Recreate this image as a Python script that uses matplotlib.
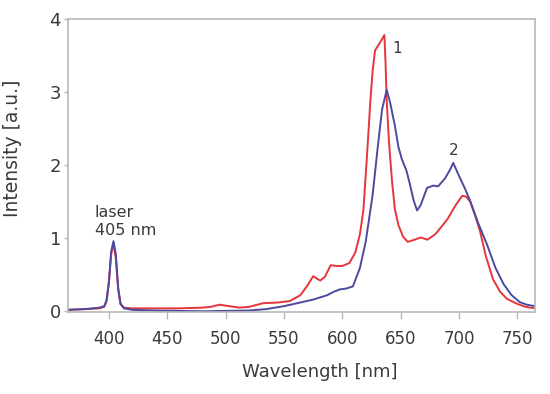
import matplotlib
matplotlib.use('Agg')
import matplotlib.pyplot as plt

# curve 1 (red)
wl_1 = [365, 380, 392, 396, 398, 400, 402, 404, 406, 408, 410, 413, 420, 440, 460,
        480, 487, 495, 503, 512, 520, 532, 545, 555, 564, 570, 575, 581, 585, 590,
        595, 600, 606, 611, 615, 618, 621, 624, 626, 628, 632, 636, 637, 638, 640,
        642.6, 645, 648, 652, 656, 662, 667, 673, 680, 690, 697, 702.6, 706, 709.5,
        714, 718, 723, 729, 735, 741, 750, 757, 765]
int_1 = [0.02, 0.03, 0.04, 0.06, 0.13, 0.38, 0.78, 0.93, 0.72, 0.30, 0.10, 0.05, 0.04,
         0.04, 0.04, 0.05, 0.06, 0.09, 0.07, 0.05, 0.06, 0.11, 0.12, 0.14, 0.22, 0.35,
         0.48, 0.42, 0.47, 0.63, 0.62, 0.62, 0.66, 0.80, 1.05, 1.38, 2.10, 2.88, 3.30,
         3.57, 3.67, 3.78, 3.40, 2.88, 2.30, 1.77, 1.40, 1.18, 1.02, 0.95, 0.98, 1.01,
         0.98, 1.06, 1.26, 1.45, 1.58, 1.57, 1.50, 1.30, 1.09, 0.75, 0.44, 0.27, 0.17,
         0.10, 0.06, 0.04]

# curve 2 (blue)
wl_2 = [365, 380, 392, 396, 398, 400, 402, 404, 406, 408, 410, 413, 420, 440, 480,
        520, 535, 550, 564, 575, 587, 593, 598, 603, 609, 615, 620, 626, 630, 634,
        638, 641, 645, 648, 651, 655, 658, 661, 664, 667, 672.6, 678, 682, 688, 692,
        695, 700, 705, 709.5, 716, 724, 731, 738, 745, 752, 758, 765]
int_2 = [0.02, 0.03, 0.05, 0.07, 0.15, 0.40, 0.82, 0.96, 0.78, 0.32, 0.10, 0.04, 0.02,
         0.01, 0.0, 0.01, 0.03, 0.07, 0.12, 0.16, 0.22, 0.27, 0.30, 0.31, 0.34, 0.59,
         0.95, 1.60, 2.20, 2.76, 3.03, 2.85, 2.54, 2.25, 2.08, 1.92, 1.73, 1.52, 1.38,
         1.45, 1.69, 1.72, 1.71, 1.82, 1.93, 2.03, 1.85, 1.68, 1.51, 1.22, 0.91, 0.60,
         0.375, 0.22, 0.125, 0.09, 0.07]

x_ticks = [400, 450, 500, 550, 600, 650, 700, 750]
y_ticks = [0, 1, 2, 3, 4]

text_col = '#3a3a3a'
spine_col = '#b8b8b8'

fig = plt.figure(figsize=(5.5, 3.94), dpi=100)
ax = fig.add_axes([0.1236, 0.2081, 0.8491, 0.7437])

ax.plot(wl_1, int_1, color='#e8353c', lw=1.4)
ax.plot(wl_2, int_2, color='#4a4a9e', lw=1.4)

ax.set_xlim(365, 765)
ax.set_ylim(-0.01, 4)
ax.set_xticks(x_ticks)
ax.set_yticks(y_ticks)

for s in ax.spines.values():
    s.set_color(spine_col)
    s.set_linewidth(1.2)

ax.tick_params(axis='x', colors=spine_col, labelcolor=text_col, labelsize=12,
               length=5, width=1, pad=8)
ax.tick_params(axis='y', colors=spine_col, labelcolor=text_col, labelsize=13,
               length=3, width=1, pad=2)

ax.set_xlabel('Wavelength [nm]', fontsize=13, color=text_col)
ax.xaxis.set_label_coords(0.54, -0.175)
ax.set_ylabel('Intensity [a.u.]', fontsize=13.5, color=text_col)
ax.yaxis.set_label_coords(-0.098, 0.56)

ax.text(388, 1.0, 'laser\n405 nm', fontsize=11.5, color=text_col,
        ha='left', va='bottom', linespacing=1.25)
ax.text(643, 3.6, '1', fontsize=11, color=text_col, ha='left', va='center')
ax.text(695, 2.2, '2', fontsize=11, color=text_col, ha='center', va='center')

fig.savefig('out.png', dpi=100)
